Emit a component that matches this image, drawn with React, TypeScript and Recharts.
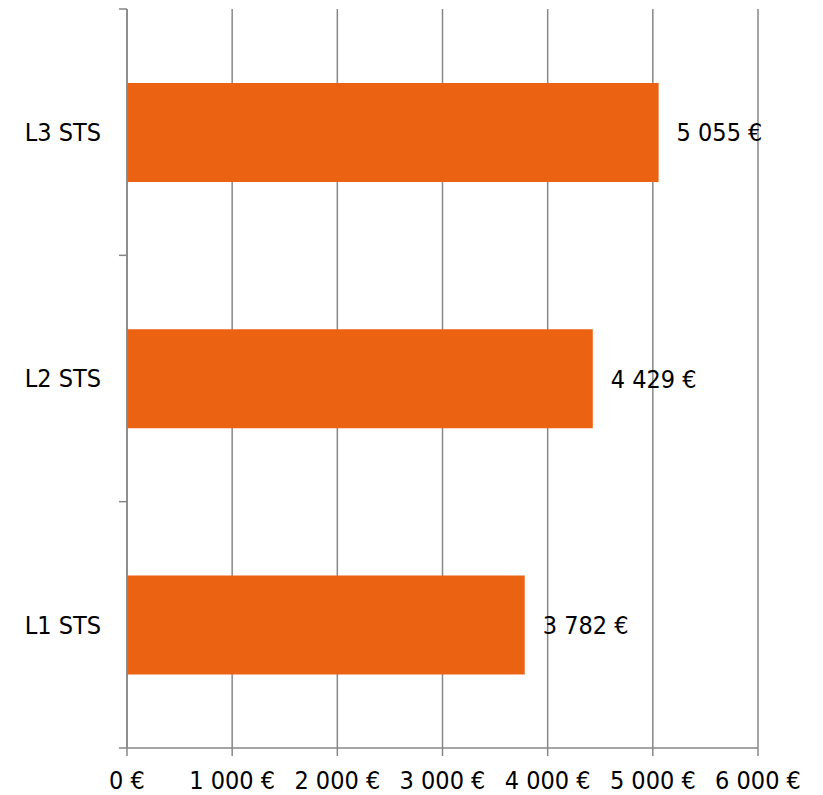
import { BarChart, Bar, XAxis, YAxis, CartesianGrid, LabelList } from "recharts";

const categories = ["L1 STS", "L2 STS", "L3 STS"];
const salaries = [3782, 4429, 5055];
const xTicks = [0, 1000, 2000, 3000, 4000, 5000, 6000];

// pos = middle of each category band, used by the axis that draws the separator ticks
const data = categories.map((name, i) => ({ name, value: salaries[i], pos: i + 0.5 }));
const edgeTicks = [0, 1, 2, 3];

// "5055" -> "5 055 €"
const euro = (v: number) => String(v).replace(/\B(?=(\d{3})+(?!\d))/g, " ") + " €";

const font = "DejaVu Sans Condensed, DejaVu Sans, sans-serif";
const gray = "#878787";
const textStyle = { fill: "#000", fontSize: 25, fontFamily: font };

const App = () => {
  return (
    <div style={{ position: "absolute", left: 0, top: 0, fontFamily: font }}>
      <BarChart
        width={823}
        height={795}
        data={data}
        layout="vertical"
        barCategoryGap="30%"
        margin={{ top: 9, right: 65, bottom: 1, left: 16 }}
      >
        <CartesianGrid horizontal={false} stroke={gray} strokeWidth={1.5} />
        <XAxis
          type="number"
          domain={[0, 6000]}
          ticks={xTicks}
          tickFormatter={euro}
          height={46}
          interval={0}
          stroke={gray}
          strokeWidth={1.5}
          tickSize={8}
          tickMargin={15}
          tick={textStyle}
        />
        {/* axis line with tick marks between the categories (inner) */}
        <YAxis
          yAxisId={1}
          type="number"
          dataKey="pos"
          domain={[0, 3]}
          ticks={edgeTicks}
          interval={0}
          width={1}
          stroke={gray}
          strokeWidth={1.5}
          tickSize={8}
          tick={{ fontSize: 1, fill: "none" }}
          tickFormatter={() => ""}
        />
        {/* category labels only (outer) */}
        <YAxis
          yAxisId={2}
          type="category"
          dataKey="name"
          reversed
          width={110}
          axisLine={false}
          tickLine={false}
          tickSize={0}
          tickMargin={25}
          tick={textStyle}
        />
        <Bar dataKey="value" yAxisId={2} fill="#EC6213" isAnimationActive={false}>
          <LabelList
            dataKey="value"
            position="right"
            offset={18}
            formatter={(v: number) => euro(v)}
            style={textStyle}
          />
        </Bar>
      </BarChart>
    </div>
  );
};

export default App;
